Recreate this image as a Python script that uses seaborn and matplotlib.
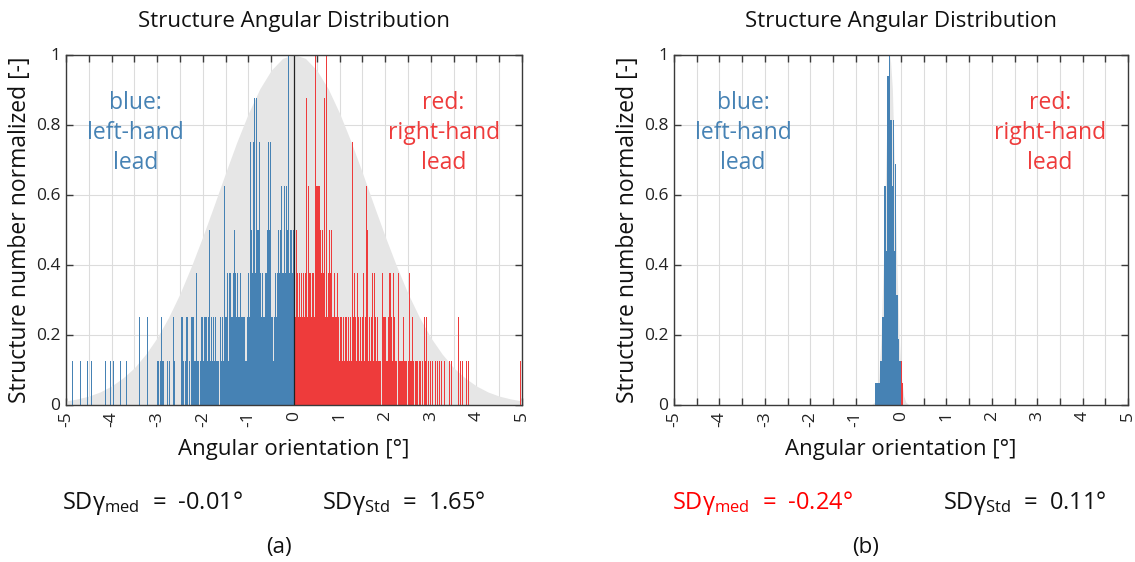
import numpy as np
import pandas as pd
import matplotlib
matplotlib.use("Agg")
import matplotlib.pyplot as plt
import seaborn as sns

sns.set_theme(style="white")
FONT = "Open Sans"
plt.rcParams["font.family"] = [FONT, "DejaVu Sans"]
plt.rcParams["mathtext.fontset"] = "custom"
plt.rcParams["mathtext.rm"] = FONT
plt.rcParams["mathtext.it"] = FONT
plt.rcParams["mathtext.default"] = "rm"

# ---------------- data: panel (a) ----------------
# bin centres (deg) and counts (structure number, normalized by 8)
blue_a_x = [-4.85, -4.69, -4.53, -4.45, -4.13, -4.03, -3.95, -3.81, -3.67, -3.39, -3.29, -3.21,
            -2.99, -2.97, -2.93, -2.91, -2.89, -2.87, -2.77, -2.73, -2.65, -2.63, -2.47, -2.45,
            -2.43, -2.37, -2.35, -2.33, -2.29, -2.25, -2.23, -2.21, -2.19, -2.17, -2.15, -2.13,
            -2.11, -2.09, -2.05, -2.03, -2.01, -1.99, -1.97, -1.95, -1.93, -1.91, -1.89, -1.87,
            -1.85, -1.83, -1.81, -1.79, -1.77, -1.75, -1.73, -1.71, -1.69, -1.67, -1.65, -1.61,
            -1.59, -1.57, -1.55, -1.53, -1.51, -1.49, -1.47, -1.45, -1.43, -1.41, -1.39, -1.37,
            -1.35, -1.33, -1.31, -1.29, -1.27, -1.25, -1.23, -1.21, -1.19, -1.17, -1.15, -1.13,
            -1.11, -1.09, -1.07, -1.05, -1.03, -1.01, -0.99, -0.97, -0.95, -0.93, -0.91, -0.89,
            -0.87, -0.85, -0.83, -0.81, -0.79, -0.77, -0.75, -0.73, -0.71, -0.69, -0.67, -0.65,
            -0.63, -0.61, -0.59, -0.57, -0.55, -0.53, -0.51, -0.49, -0.47, -0.45, -0.43, -0.41,
            -0.39, -0.37, -0.35, -0.33, -0.31, -0.29, -0.27, -0.25, -0.23, -0.21, -0.19, -0.17,
            -0.15, -0.13, -0.11, -0.09, -0.07, -0.05, -0.03, -0.01]
blue_a_n = [1, 1, 1, 1, 1, 1, 1, 1, 1, 2, 1, 2,
            1, 1, 1, 2, 1, 1, 1, 1, 2, 1, 2, 2,
            1, 1, 2, 2, 1, 2, 2, 2, 1, 1, 1, 3,
            1, 1, 1, 2, 2, 1, 2, 2, 2, 2, 1, 2,
            4, 1, 2, 1, 2, 1, 2, 1, 1, 1, 1, 2,
            1, 2, 1, 5, 2, 2, 2, 3, 1, 3, 3, 2,
            2, 3, 4, 3, 2, 2, 3, 2, 2, 3, 2, 2,
            2, 2, 1, 1, 1, 2, 3, 2, 6, 4, 3, 6,
            7, 3, 7, 4, 3, 4, 6, 3, 2, 3, 2, 2,
            3, 3, 4, 3, 6, 4, 6, 2, 2, 1, 2, 3,
            2, 3, 3, 4, 3, 4, 5, 3, 3, 5, 3, 5,
            4, 8, 4, 3, 4, 4, 3, 4]

red_a_x = [0.01, 0.03, 0.05, 0.07, 0.09, 0.11, 0.13, 0.15, 0.17, 0.19, 0.21, 0.23, 0.25, 0.27,
           0.29, 0.31, 0.33, 0.35, 0.37, 0.39, 0.41, 0.43, 0.45, 0.47, 0.49, 0.51, 0.53, 0.55,
           0.57, 0.59, 0.61, 0.63, 0.65, 0.67, 0.69, 0.71, 0.73, 0.75, 0.77, 0.79, 0.81, 0.83,
           0.85, 0.87, 0.89, 0.91, 0.93, 0.95, 0.97, 0.99, 1.01, 1.03, 1.05, 1.07, 1.09, 1.11,
           1.13, 1.15, 1.17, 1.19, 1.21, 1.23, 1.25, 1.27, 1.29, 1.31, 1.33, 1.35, 1.37, 1.39,
           1.41, 1.43, 1.45, 1.47, 1.49, 1.51, 1.53, 1.55, 1.57, 1.59, 1.61, 1.63, 1.65, 1.67,
           1.69, 1.71, 1.73, 1.75, 1.77, 1.79, 1.81, 1.83, 1.85, 1.87, 1.89, 1.93, 1.95, 1.97,
           1.99, 2.01, 2.03, 2.05, 2.07, 2.09, 2.11, 2.13, 2.15, 2.17, 2.19, 2.21, 2.23, 2.25,
           2.29, 2.31, 2.33, 2.35, 2.37, 2.39, 2.41, 2.43, 2.45, 2.47, 2.51, 2.53, 2.55, 2.57,
           2.59, 2.61, 2.63, 2.67, 2.69, 2.71, 2.75, 2.77, 2.81, 2.85, 2.87, 2.89, 2.91, 2.95,
           2.99, 3.03, 3.07, 3.11, 3.15, 3.19, 3.23, 3.31, 3.41, 3.45, 3.53, 3.61, 3.65, 3.69,
           3.79, 3.83, 4.97]
red_a_n = [3, 2, 4, 3, 2, 5, 3, 2, 3, 2, 3, 2, 3, 7,
           2, 5, 3, 2, 3, 2, 3, 3, 2, 8, 5, 5, 5, 5,
           3, 4, 3, 4, 3, 7, 2, 8, 2, 3, 4, 2, 3, 4,
           2, 2, 3, 2, 2, 3, 2, 1, 2, 3, 2, 1, 2, 1,
           2, 2, 1, 2, 1, 2, 2, 1, 6, 2, 3, 2, 1, 3,
           2, 1, 2, 2, 1, 2, 3, 1, 2, 5, 4, 1, 2, 1,
           2, 2, 3, 1, 3, 2, 1, 2, 1, 1, 1, 2, 3, 2,
           2, 2, 1, 1, 2, 3, 3, 2, 2, 1, 3, 2, 1, 1,
           3, 1, 1, 1, 1, 1, 2, 1, 1, 1, 1, 3, 1, 1,
           2, 1, 1, 1, 1, 1, 1, 1, 1, 2, 2, 1, 2, 1,
           1, 1, 2, 1, 1, 1, 1, 1, 1, 1, 1, 2, 1, 1,
           1, 1, 1]

# fitted normal envelope (grey area), read at 0.25 deg steps
fit_a_x = [-5.0, -4.75, -4.5, -4.25, -4.0, -3.75, -3.5, -3.25, -3.0, -2.75, -2.5, -2.25, -2.0,
           -1.75, -1.5, -1.25, -1.0, -0.75, -0.5, -0.25, 0.0, 0.25, 0.5, 0.75, 1.0, 1.25,
           1.5, 1.75, 2.0, 2.25, 2.5, 2.75, 3.0, 3.25, 3.5, 3.75, 4.0, 4.25, 4.5, 4.75, 5.0]
fit_a_y = [0.010, 0.016, 0.024, 0.036, 0.053, 0.076, 0.105, 0.144, 0.191, 0.249, 0.317, 0.395,
           0.480, 0.570, 0.662, 0.751, 0.832, 0.902, 0.955, 0.989, 1.000, 0.989, 0.955, 0.902,
           0.832, 0.751, 0.662, 0.570, 0.480, 0.395, 0.317, 0.249, 0.191, 0.144, 0.105, 0.076,
           0.053, 0.036, 0.024, 0.016, 0.010]

# ---------------- data: panel (b) ----------------
blue_b_x = [-0.57, -0.55, -0.53, -0.51, -0.49, -0.47, -0.45, -0.43, -0.41, -0.39, -0.37, -0.35,
            -0.33, -0.31, -0.29, -0.27, -0.25, -0.23, -0.21, -0.19, -0.17, -0.15, -0.13, -0.11,
            -0.09, -0.07, -0.05, -0.03, -0.01]
blue_b_h = [0.0625, 0.0625, 0.0625, 0.0625, 0.0625, 0.0625, 0.125, 0.125, 0.25, 0.25, 0.625,
            0.625, 0.625, 0.4375, 0.9375, 0.9375, 1.0, 0.8125, 0.8125, 0.625, 0.8125, 0.4375,
            0.6875, 0.6875, 0.3125, 0.3125, 0.1875, 0.125, 0.125]
red_b_x = [0.01, 0.03]
red_b_h = [0.125, 0.0625]

fit_b_x = [-0.64, -0.59, -0.54, -0.49, -0.44, -0.39, -0.34, -0.29, -0.24, -0.19, -0.14, -0.09,
           -0.04, 0.01, 0.06, 0.11, 0.16]
fit_b_y = [0.001, 0.006, 0.024, 0.076, 0.192, 0.395, 0.662, 0.902, 1.000, 0.902, 0.662, 0.395,
           0.192, 0.076, 0.024, 0.006, 0.001]

stats = {"a": ("-0.01°", "1.65°"), "b": ("-0.24°", "0.11°")}
panel_letters = ["(a)", "(b)"]

BLUE = "#4682B4"
RED = "#EE3B3B"
GREY_FILL = "#E6E6E6"
GRID = "#DCDCDC"
SPINE = "#3A3A3A"

W, H = 1135, 562
fig = plt.figure(figsize=(W / 100, H / 100), dpi=100)
fig.patch.set_facecolor("white")


def fx(px):
    return px / W


def fy(py):
    return 1 - py / H


axes_px = [(66, 522), (674, 1128)]
top_px, bot_px = 54.5, 404.5
edges = [round(v, 4) for v in np.arange(-5.0, 5.0001, 0.02)]

xt = np.arange(-5, 5.01, 0.5)
xt_labels = [str(int(v)) if float(v).is_integer() else "" for v in xt]
yt = [0, 0.2, 0.4, 0.6, 0.8, 1.0]
yt_labels = ["0", "0.2", "0.4", "0.6", "0.8", "1"]

panels = [
    dict(bx=blue_a_x, bw=[n / 8 for n in blue_a_n], rx=red_a_x, rw=[n / 8 for n in red_a_n],
         fx=fit_a_x, fy=fit_a_y, zero_line=True),
    dict(bx=blue_b_x, bw=blue_b_h, rx=red_b_x, rw=red_b_h,
         fx=fit_b_x, fy=fit_b_y, zero_line=False),
]

for i, (p, (l, r)) in enumerate(zip(panels, axes_px)):
    ax = fig.add_axes([fx(l), fy(bot_px), (r - l) / W, (bot_px - top_px) / H])
    ax.set_facecolor("white")
    ax.fill_between(p["fx"], 0, p["fy"], color=GREY_FILL, linewidth=0, zorder=1)
    dfb = pd.DataFrame({"angle": p["bx"], "w": p["bw"]})
    dfr = pd.DataFrame({"angle": p["rx"], "w": p["rw"]})
    sns.histplot(data=dfb, x="angle", weights="w", bins=edges, ax=ax, color=BLUE,
                 alpha=1.0, linewidth=0, zorder=3)
    sns.histplot(data=dfr, x="angle", weights="w", bins=edges, ax=ax, color=RED,
                 alpha=1.0, linewidth=0, zorder=3)
    if p["zero_line"]:
        ax.axvline(0, color="#222222", lw=0.9, zorder=4)
    ax.set_xlim(-5, 5)
    ax.set_ylim(0, 1)
    ax.set_xticks(xt)
    ax.set_xticklabels(xt_labels, rotation=90)
    ax.set_yticks(yt)
    ax.set_yticklabels(yt_labels)
    ax.grid(True, color=GRID, lw=0.8, zorder=0)
    ax.set_axisbelow(True)
    ax.tick_params(direction="in", length=5, width=1, top=True, right=True,
                   bottom=True, left=True, color=SPINE, labelsize=12.5,
                   labelcolor="#222222")
    ax.tick_params(axis="x", pad=5)
    ax.tick_params(axis="y", pad=4)
    for s in ax.spines.values():
        s.set_color(SPINE)
        s.set_linewidth(1.0)
        s.set_visible(True)
        s.set_zorder(5)
    ax.set_xlabel("")
    ax.set_ylabel("Structure number normalized [-]", fontsize=16.5, color="#111111",
                  labelpad=3)
    ax.text(-3.48, 0.776, "blue:\nleft-hand\nlead", color=BLUE, fontsize=16.5,
            ha="center", va="center", linespacing=1.33, zorder=6)
    ax.text(3.28, 0.776, "red:\nright-hand\nlead", color=RED, fontsize=16.5,
            ha="center", va="center", linespacing=1.33, zorder=6)
    cx = (l + r) / 2
    fig.text(fx(cx), fy(22), "Structure Angular Distribution", fontsize=16,
             ha="center", va="center", color="#111111")
    fig.text(fx(cx), fy(449), "Angular orientation [°]", fontsize=16, ha="center",
             va="center", color="#111111")

# statistics lines and panel letters
sd_pos = [(62, 322), (672, 943)]
for key, (xm, xs), letter, cxp in zip(["a", "b"], sd_pos, panel_letters, [279, 866]):
    med, std = stats[key]
    col_med = "#111111" if key == "a" else "#FF0000"
    fig.text(fx(xm), fy(503), "SDγ$_{\\mathregular{med}}$  =  " + med, fontsize=17,
             ha="left", va="center", color=col_med)
    fig.text(fx(xs), fy(503), "SDγ$_{\\mathregular{Std}}$  =  " + std, fontsize=17,
             ha="left", va="center", color="#111111")
    fig.text(fx(cxp), fy(548), letter, fontsize=16, ha="center", va="center",
             color="#111111")

fig.savefig("out.png", dpi=100, facecolor="white")
